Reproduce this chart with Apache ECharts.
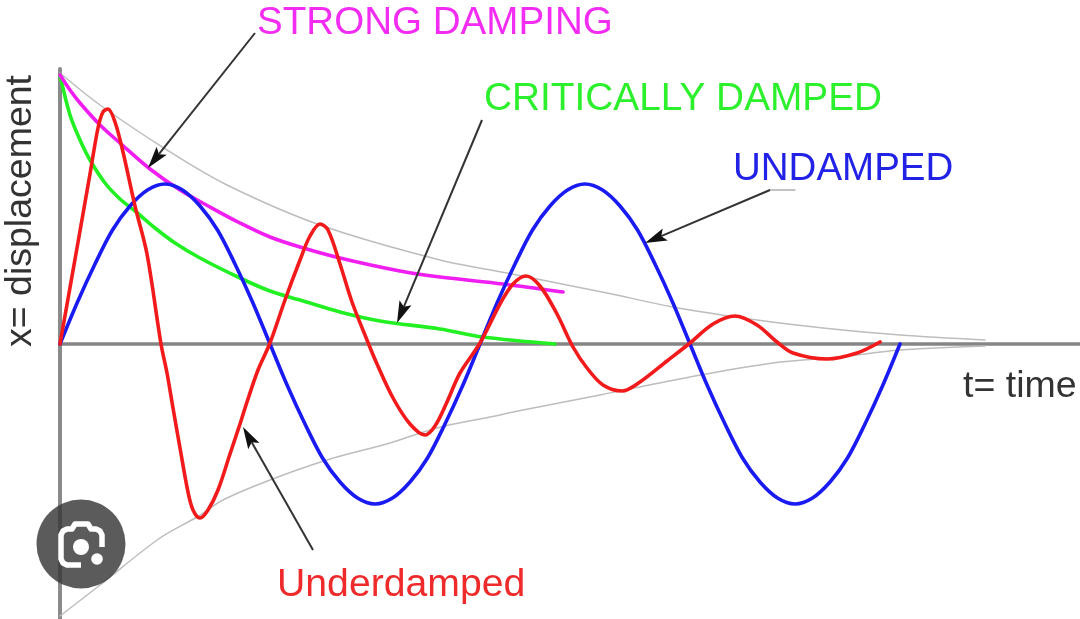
<!DOCTYPE html>
<html><head><meta charset="utf-8">
<style>html,body{margin:0;padding:0;background:#fff}#c{width:1080px;height:619px}</style>
<script src="https://cdn.jsdelivr.net/npm/echarts@6/dist/echarts.min.js"></script>
</head><body><div id="c"></div>
<script>
// [time, displacement]
var undamped=[[0,0],[.175,21],[.35,40],[.525,57],[.7,69],[.875,77],[1.05,80],[1.225,77],[1.4,69],[1.575,57],[1.75,40],[1.925,21],[2.1,0],[2.275,-21],[2.45,-40],[2.625,-57],[2.8,-69],[2.975,-77],[3.15,-80],[3.325,-77],[3.5,-69],[3.675,-57],[3.85,-40],[4.025,-21],[4.2,0],[4.375,21],[4.55,40],[4.725,57],[4.9,69],[5.075,77],[5.25,80],[5.425,77],[5.6,69],[5.775,57],[5.95,40],[6.125,21],[6.3,0],[6.475,-21],[6.65,-40],[6.825,-57],[7,-69],[7.175,-77],[7.35,-80],[7.525,-77],[7.7,-69],[7.875,-57],[8.05,-40],[8.225,-21],[8.4,0]];
var underdamped=[[0,0],[.17,48],[.3,85],[.38,108],[.43,116],[.48,117.5],[.55,111],[.63,96],[.75,69],[.87,45],[1.01,0],[1.07,-14.5],[1.13,-32],[1.2,-52],[1.28,-74],[1.33,-83],[1.4,-87],[1.48,-83],[1.58,-73],[1.7,-55],[1.8,-40],[1.87,-29],[1.98,-13],[2.1,.5],[2.25,22],[2.4,42],[2.5,54],[2.6,60],[2.68,57],[2.8,40],[2.92,21],[3.07,2],[3.17,-10],[3.33,-27],[3.5,-40],[3.65,-45.5],[3.75,-41],[3.87,-29],[4,-14.5],[4.2,.5],[4.4,20],[4.53,30],[4.66,34],[4.8,29],[4.97,15],[5.13,-1.5],[5.27,-12],[5.43,-20.5],[5.62,-23.5],[5.8,-19],[6.07,-8.5],[6.3,.5],[6.53,10],[6.75,14],[6.97,9.5],[7.17,1],[7.33,-4.5],[7.67,-7.5],[7.97,-4.5],[8.2,1]];
var strongDamping=[[0,134.5],[.1,127],[.2,120.5],[.4,109.5],[.6,100.5],[.9,87.5],[1.2,77],[1.5,68.5],[1.8,60.5],[2.1,53.5],[2.4,48.5],[2.8,43],[3.4,36.5],[3.8,33.5],[4.43,30],[5.03,26]];
var criticallyDamped=[[0,134.5],[.1,114.5],[.2,102],[.3,92],[.45,80.5],[.6,72.5],[.75,66.5],[.95,58],[1.15,50.5],[1.4,43],[1.8,33],[2.1,26.5],[2.4,22],[2.8,16],[3.2,11.5],[3.8,7.5],[4.23,3.5],[4.95,0]];
var envelopeTop=[[0,135.5],[.4,119.5],[1.07,97],[1.67,79.5],[2.6,59.5],[3.8,42],[4.47,35.5],[5.47,25.5],[6.13,18.5],[6.97,12],[7.63,8],[8.4,4.5],[9.25,2]];
var envelopeBottom=[[0,-136],[.4,-120.5],[1,-97],[1.37,-86.5],[1.63,-78],[2.1,-68],[2.67,-58],[3.3,-49.5],[3.77,-42],[4.3,-36.5],[4.63,-33],[5.4,-25.5],[6.3,-16.5],[7.13,-9.5],[7.8,-6.5],[8.4,-3],[9.25,-1]];
// arrows: from t, from x, to t, to x
var arrows=[[1.95,155.5,.88,88],[4.22,112,3.37,10.5],[7.1,77,5.85,50.5],[2.53,-103,1.83,-41.5]];
var arrowTail=[[7.35,77],[7.1,77]];
// labels
var labelTexts=['STRONG DAMPING','CRITICALLY DAMPED','UNDAMPED','Underdamped','t= time','x= displacement'];

var FONT='"Liberation Sans",Arial,sans-serif';
function curve(name,data,color,w,smooth,z){
  return {name:name,type:'line',data:data,showSymbol:false,symbol:'none',smooth:smooth,z:z,silent:true,
    lineStyle:{color:color,width:w,cap:'round',join:'round'}};
}
function label(i,x,y,size,color,extra){
  var o={type:'text',x:x,y:y,z:50,style:{text:labelTexts[i],fill:color,font:size+'px '+FONT,textVerticalAlign:'middle',textAlign:'left'}};
  if(extra){for(var k in extra){ if(k==='style'){for(var s in extra.style)o.style[s]=extra.style[s];} else o[k]=extra[k]; }}
  return o;
}
var chart=echarts.init(document.getElementById('c'),null,{renderer:'canvas'});
chart.setOption({
  animation:false,backgroundColor:'#fff',
  grid:{left:60,right:0,top:69,bottom:0,containLabel:false},
  xAxis:{type:'value',min:0,max:10.2,axisLabel:{show:false},axisTick:{show:false},splitLine:{show:false},
    axisLine:{show:true,onZero:true,lineStyle:{color:'#858585',width:3.5}}},
  yAxis:{type:'value',min:-137.5,max:137.5,axisLabel:{show:false},axisTick:{show:false},splitLine:{show:false},
    axisLine:{show:true,onZero:true,lineStyle:{color:'#8a8a8a',width:4}}},
  series:[
    curve('Envelope upper',envelopeTop,'#bdbdbd',1.5,.33,3),
    curve('Envelope lower',envelopeBottom,'#bdbdbd',1.5,.33,3),
    curve('Critically damped',criticallyDamped,'#22f022',3.6,.33,4),
    curve('Strong damping',strongDamping,'#f01ef0',3.6,.33,5),
    curve('Undamped',undamped,'#1a1af2',3.6,.33,6),
    curve('Underdamped',underdamped,'#f21a1a',3.6,.33,7),
    curve('Arrow tail',arrowTail,'#b0b0b0',1.4,false,8),
    {name:'Arrows',type:'custom',coordinateSystem:'cartesian2d',data:arrows,z:9,silent:true,
     encode:{x:[0,2],y:[1,3]},clip:false,
     renderItem:function(p,api){
       var a=api.coord([api.value(0),api.value(1)]),b=api.coord([api.value(2),api.value(3)]);
       var dx=b[0]-a[0],dy=b[1]-a[1],L=Math.sqrt(dx*dx+dy*dy);dx/=L;dy/=L;
       var hl=22,hw=6.5,bx=b[0]-dx*hl,by=b[1]-dy*hl;
       return {type:'group',children:[
         {type:'line',shape:{x1:a[0],y1:a[1],x2:b[0]-dx*hl*.8,y2:b[1]-dy*hl*.8},style:{stroke:'#333',lineWidth:2}},
         {type:'polygon',shape:{points:[b,[bx-dy*hw,by+dx*hw],[b[0]-dx*hl*.8,b[1]-dy*hl*.8],[bx+dy*hw,by-dx*hw]]},style:{fill:'#111'}}
       ]};
     }}
  ],
  graphic:[
    label(0,257,23,38.6,'#f22cf2'),
    label(1,484,99,38.8,'#2cf02c'),
    label(2,733,169,38.5,'#2222e6'),
    label(3,277,585,39.2,'#ee2a2a'),
    label(4,963,387,37.5,'#333'),
    label(5,21,211,37.5,'#333',{rotation:Math.PI/2,style:{textAlign:'center'}}),
    {type:'circle',z:60,shape:{cx:81,cy:544,r:44.5},style:{fill:'rgba(55,55,55,0.82)'}},
    {type:'polyline',z:61,shape:{points:[[81,565],[67,565],[63,563],[61,559],[61,535],[63,531],[67,529],[72,529],[75,524],[88,524],[91,529],[96,529],[100,531],[102,535],[102,547]]},
      style:{fill:'none',stroke:'#fff',lineWidth:5.5,lineJoin:'round'}},
    {type:'circle',z:61,shape:{cx:81,cy:547,r:8},style:{fill:'#fff'}},
    {type:'circle',z:61,shape:{cx:97,cy:559,r:5.8},style:{fill:'#fff'}}
  ]
});
</script></body></html>
